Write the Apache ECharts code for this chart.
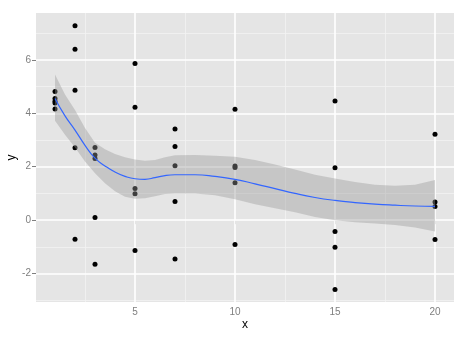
<!DOCTYPE html>
<html>
<head>
<meta charset="utf-8">
<script src="https://cdn.jsdelivr.net/npm/echarts@6/dist/echarts.min.js"></script>
<style>
html,body{margin:0;padding:0;background:#fff;}
#chart{width:474px;height:337px;}
</style>
</head>
<body>
<div id="chart"></div>
<script>
// Scatter points
var pointX = [1,1,1,1,1, 2,2,2,2,2, 3,3,3,3,3, 5,5,5,5,5, 7,7,7,7,7, 10,10,10,10,10, 15,15,15,15,15, 20,20,20,20];
var pointY = [4.81,4.55,4.45,4.38,4.16, 7.27,6.39,4.86,2.71,-0.71, 2.72,2.44,2.31,0.10,-1.65,
              5.86,4.22,1.19,0.99,-1.13, 3.41,2.76,2.04,0.70,-1.45, 4.15,2.03,1.97,1.40,-0.91,
              4.46,1.96,-0.42,-1.01,-2.59, 3.21,0.68,0.51,-0.72];
// Loess smooth with confidence band
var curveX   = [1,1.5,2,2.5,3,3.5,4,4.5,5,5.5,6,6.5,7,8,9,10,11,12,13,14,15,16,17,18,19,20];
var curveFit = [4.55,3.90,3.37,2.80,2.32,2.03,1.80,1.64,1.55,1.53,1.59,1.67,1.70,1.70,1.64,1.53,1.36,1.18,1.00,0.85,0.74,0.66,0.60,0.56,0.53,0.52];
var curveLo  = [3.72,3.20,2.72,2.20,1.76,1.38,1.08,0.88,0.80,0.82,0.90,0.98,1.00,1.00,0.93,0.78,0.60,0.45,0.30,0.12,0.00,-0.08,-0.12,-0.18,-0.27,-0.42];
var curveHi  = [5.45,4.70,4.12,3.45,2.90,2.65,2.48,2.35,2.27,2.22,2.25,2.35,2.43,2.44,2.41,2.37,2.25,2.08,1.90,1.70,1.56,1.43,1.33,1.29,1.33,1.50];
// Axis ticks
var xTicks = [5,10,15,20];
var xMinor = [2.5,7.5,12.5,17.5];
var yTicks = [-2,0,2,4,6];
var yMinor = [-3,-1,1,3,5,7];
var xRange = [0.05, 20.95];
var yRange = [-3.06, 7.75];

var chart = echarts.init(document.getElementById('chart'), null, {renderer:'canvas'});

var gridLines = [];
xMinor.forEach(function(v){ gridLines.push({xAxis:v, lineStyle:{color:'#f2f2f2', width:0.8, type:'solid'}}); });
yMinor.forEach(function(v){ gridLines.push({yAxis:v, lineStyle:{color:'#f2f2f2', width:0.8, type:'solid'}}); });
xTicks.forEach(function(v){ gridLines.push({xAxis:v, lineStyle:{color:'#ffffff', width:1.6, type:'solid'}}); });
yTicks.forEach(function(v){ gridLines.push({yAxis:v, lineStyle:{color:'#ffffff', width:1.6, type:'solid'}}); });

var ribbonData = curveX.map(function(x,i){ return [x, curveLo[i], curveHi[i]]; });
var font = 'Liberation Sans, Arial, sans-serif';

var option = {
  animation: false,
  grid: {left:36, right:20, top:13, bottom:35, show:true, backgroundColor:'#e5e5e5', borderWidth:0,
         containLabel:false, outerBoundsMode:'none'},
  xAxis: {
    type:'value', min:xRange[0], max:xRange[1],
    name:'x', nameLocation:'middle', nameGap:17, nameMoveOverlap:false,
    nameTextStyle:{color:'#000', fontSize:12, fontFamily:font},
    axisLine:{show:false},
    axisTick:{show:true, length:4, lineStyle:{color:'#7f7f7f', width:1}, customValues:xTicks},
    axisLabel:{color:'#7f7f7f', fontSize:10, margin:5, fontFamily:font, customValues:xTicks},
    splitLine:{show:false}
  },
  yAxis: {
    type:'value', min:yRange[0], max:yRange[1],
    name:'y', nameLocation:'middle', nameGap:18, nameRotate:90, nameMoveOverlap:false,
    nameTextStyle:{color:'#000', fontSize:12, fontFamily:font},
    axisLine:{show:false},
    axisTick:{show:true, length:4, lineStyle:{color:'#7f7f7f', width:1}, customValues:yTicks},
    axisLabel:{color:'#7f7f7f', fontSize:10, margin:5, fontFamily:font, customValues:yTicks},
    splitLine:{show:false}
  },
  series: [
    {
      type:'line', data:[], z:1, silent:true,
      markLine:{z:1, silent:true, symbol:['none','none'], label:{show:false}, data:gridLines, animation:false}
    },
    {
      type:'scatter', z:2, symbolSize:5, itemStyle:{color:'#000', opacity:1},
      data: pointX.map(function(x,i){ return [x, pointY[i]]; })
    },
    {
      type:'custom', z:3, silent:true,
      data: ribbonData,
      encode:{x:0, y:[1,2]},
      renderItem:function(params, api){
        if (params.dataIndex !== 0) return;
        var pts = [];
        for (var i=0;i<ribbonData.length;i++) pts.push(api.coord([ribbonData[i][0], ribbonData[i][2]]));
        for (var j=ribbonData.length-1;j>=0;j--) pts.push(api.coord([ribbonData[j][0], ribbonData[j][1]]));
        return {type:'polygon', shape:{points:pts}, style:{fill:'rgba(153,153,153,0.4)'}};
      }
    },
    {
      type:'line', z:4, smooth:true, showSymbol:false, silent:true,
      lineStyle:{color:'#3366FF', width:1.2},
      data: curveX.map(function(x,i){ return [x, curveFit[i]]; })
    }
  ]
};
chart.setOption(option);
</script>
</body>
</html>
